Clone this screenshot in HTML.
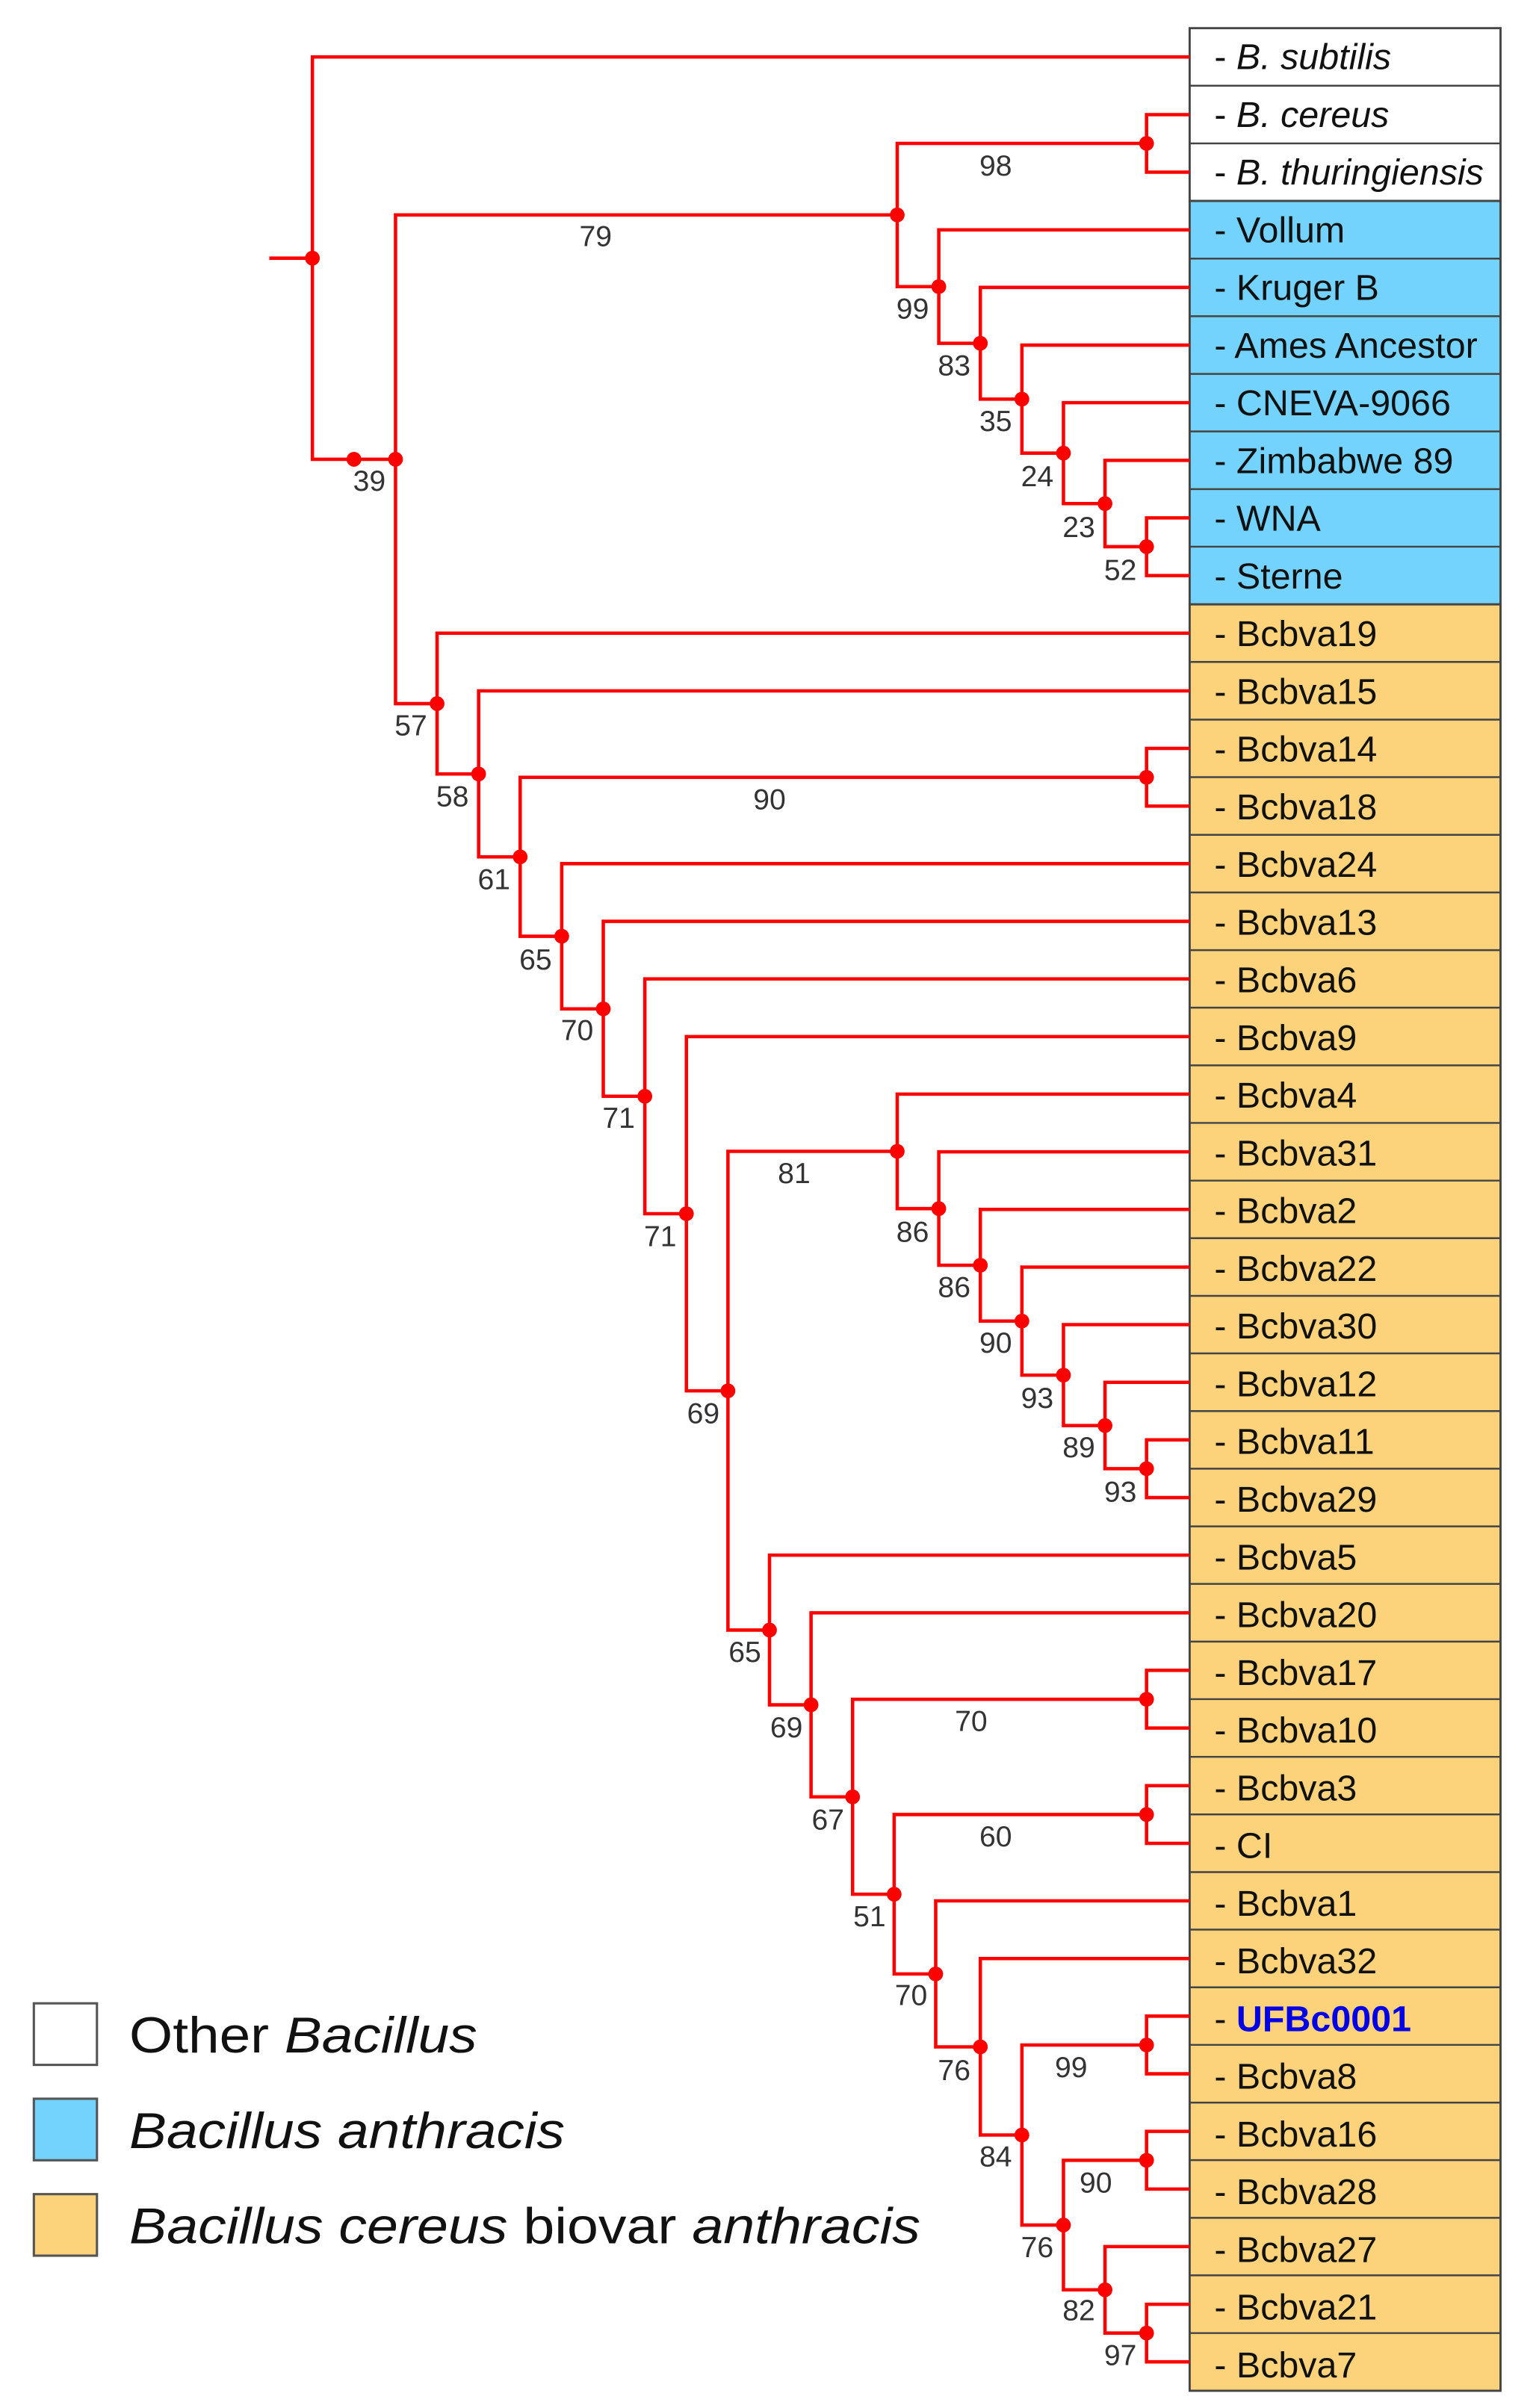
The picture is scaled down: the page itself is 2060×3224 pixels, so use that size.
<!DOCTYPE html>
<html><head><meta charset="utf-8"><style>
html,body{margin:0;padding:0;background:#fff;}
svg{display:block;}
text{font-family:"Liberation Sans",sans-serif;}
.n{font-size:19px;fill:#333;text-anchor:middle;}
.l{font-size:23.5px;fill:#111;}
.e{fill:none;stroke:#f00;stroke-width:2.2;}
.d{fill:#f00;}
</style></head><body>
<svg width="2060" height="3224" viewBox="0 0 1000 1565" preserveAspectRatio="none" xmlns="http://www.w3.org/2000/svg">
<g stroke="#444" stroke-width="1.4">
<rect x="773" y="18.3" width="202" height="112.3" fill="#fff"/>
<rect x="773" y="130.6" width="202" height="262.2" fill="#74d3fc"/>
<rect x="773" y="392.8" width="202" height="1161" fill="#fcd27a"/>
</g>
<g stroke="#444" stroke-width="1.2">
<line x1="773" x2="975" y1="55.7" y2="55.7"/><line x1="773" x2="975" y1="93.2" y2="93.2"/>
<line x1="773" x2="975" y1="168.1" y2="168.1"/><line x1="773" x2="975" y1="205.5" y2="205.5"/><line x1="773" x2="975" y1="243" y2="243"/><line x1="773" x2="975" y1="280.4" y2="280.4"/><line x1="773" x2="975" y1="317.9" y2="317.9"/><line x1="773" x2="975" y1="355.3" y2="355.3"/>
<line x1="773" x2="975" y1="430.2" y2="430.2"/><line x1="773" x2="975" y1="467.7" y2="467.7"/><line x1="773" x2="975" y1="505.1" y2="505.1"/><line x1="773" x2="975" y1="542.6" y2="542.6"/><line x1="773" x2="975" y1="580" y2="580"/><line x1="773" x2="975" y1="617.5" y2="617.5"/><line x1="773" x2="975" y1="654.9" y2="654.9"/><line x1="773" x2="975" y1="692.4" y2="692.4"/><line x1="773" x2="975" y1="729.8" y2="729.8"/><line x1="773" x2="975" y1="767.3" y2="767.3"/><line x1="773" x2="975" y1="804.7" y2="804.7"/><line x1="773" x2="975" y1="842.2" y2="842.2"/><line x1="773" x2="975" y1="879.6" y2="879.6"/><line x1="773" x2="975" y1="917.1" y2="917.1"/><line x1="773" x2="975" y1="954.5" y2="954.5"/><line x1="773" x2="975" y1="992" y2="992"/><line x1="773" x2="975" y1="1029.4" y2="1029.4"/><line x1="773" x2="975" y1="1066.9" y2="1066.9"/><line x1="773" x2="975" y1="1104.3" y2="1104.3"/><line x1="773" x2="975" y1="1141.8" y2="1141.8"/><line x1="773" x2="975" y1="1179.2" y2="1179.2"/><line x1="773" x2="975" y1="1216.7" y2="1216.7"/><line x1="773" x2="975" y1="1254.1" y2="1254.1"/><line x1="773" x2="975" y1="1291.6" y2="1291.6"/><line x1="773" x2="975" y1="1329" y2="1329"/><line x1="773" x2="975" y1="1366.5" y2="1366.5"/><line x1="773" x2="975" y1="1403.9" y2="1403.9"/><line x1="773" x2="975" y1="1441.4" y2="1441.4"/><line x1="773" x2="975" y1="1478.8" y2="1478.8"/><line x1="773" x2="975" y1="1516.3" y2="1516.3"/>
</g>
<g class="e">
<path d="M175 167.8 H203"/>
<path d="M773 37 H203 V298.5 H257"/>
<path d="M583 139.7 H257 V457.3 H284"/>
<path d="M745 93.2 H583 V186.3 H610"/>
<path d="M773 74.5 H745 V111.9 H773"/>
<path d="M773 149.4 H610 V223.1 H637"/>
<path d="M773 186.8 H637 V259.4 H664"/>
<path d="M773 224.3 H664 V294.5 H691"/>
<path d="M773 261.7 H691 V327.3 H718"/>
<path d="M773 299.2 H718 V355.3 H745"/>
<path d="M773 336.6 H745 V374.1 H773"/>
<path d="M773 411.5 H284 V503 H311"/>
<path d="M773 449 H311 V556.9 H338"/>
<path d="M745 505.2 H338 V608.5 H365"/>
<path d="M773 486.4 H745 V523.9 H773"/>
<path d="M773 561.3 H365 V655.7 H392"/>
<path d="M773 598.8 H392 V712.5 H419"/>
<path d="M773 636.2 H419 V788.8 H446"/>
<path d="M773 673.7 H446 V903.9 H473"/>
<path d="M583 748.3 H473 V1059.4 H500"/>
<path d="M773 711.1 H583 V785.5 H610"/>
<path d="M773 748.6 H610 V822.3 H637"/>
<path d="M773 786 H637 V858.6 H664"/>
<path d="M773 823.5 H664 V893.7 H691"/>
<path d="M773 860.9 H691 V926.5 H718"/>
<path d="M773 898.4 H718 V954.5 H745"/>
<path d="M773 935.8 H745 V973.3 H773"/>
<path d="M773 1010.7 H500 V1108 H527"/>
<path d="M773 1048.2 H527 V1167.8 H554"/>
<path d="M745 1104.4 H554 V1231.1 H581"/>
<path d="M773 1085.6 H745 V1123.1 H773"/>
<path d="M745 1179.3 H581 V1282.9 H608"/>
<path d="M773 1160.5 H745 V1198 H773"/>
<path d="M773 1235.4 H608 V1330.3 H637"/>
<path d="M773 1272.9 H637 V1387.6 H664"/>
<path d="M745 1329.1 H664 V1446.1 H691"/>
<path d="M773 1310.3 H745 V1347.8 H773"/>
<path d="M745 1404 H691 V1488.2 H718"/>
<path d="M773 1385.2 H745 V1422.7 H773"/>
<path d="M773 1460.1 H718 V1516.3 H745"/>
<path d="M773 1497.6 H745 V1535 H773"/>
</g>
<g class="d">
<circle cx="203" cy="167.8" r="4.8"/><circle cx="230" cy="298.5" r="4.8"/><circle cx="257" cy="298.5" r="4.8"/>
<circle cx="583" cy="139.7" r="4.8"/><circle cx="745" cy="93.2" r="4.8"/><circle cx="610" cy="186.3" r="4.8"/>
<circle cx="637" cy="223.1" r="4.8"/><circle cx="664" cy="259.4" r="4.8"/><circle cx="691" cy="294.5" r="4.8"/>
<circle cx="718" cy="327.3" r="4.8"/><circle cx="745" cy="355.3" r="4.8"/><circle cx="284" cy="457.3" r="4.8"/>
<circle cx="311" cy="503" r="4.8"/><circle cx="338" cy="556.9" r="4.8"/><circle cx="745" cy="505.2" r="4.8"/>
<circle cx="365" cy="608.5" r="4.8"/><circle cx="392" cy="655.7" r="4.8"/><circle cx="419" cy="712.5" r="4.8"/>
<circle cx="446" cy="788.8" r="4.8"/><circle cx="473" cy="903.9" r="4.8"/><circle cx="583" cy="748.3" r="4.8"/>
<circle cx="610" cy="785.5" r="4.8"/><circle cx="637" cy="822.3" r="4.8"/><circle cx="664" cy="858.6" r="4.8"/>
<circle cx="691" cy="893.7" r="4.8"/><circle cx="718" cy="926.5" r="4.8"/><circle cx="745" cy="954.5" r="4.8"/>
<circle cx="500" cy="1059.4" r="4.8"/><circle cx="527" cy="1108" r="4.8"/><circle cx="554" cy="1167.8" r="4.8"/>
<circle cx="745" cy="1104.4" r="4.8"/><circle cx="581" cy="1231.1" r="4.8"/><circle cx="745" cy="1179.3" r="4.8"/>
<circle cx="608" cy="1282.9" r="4.8"/><circle cx="637" cy="1330.3" r="4.8"/><circle cx="664" cy="1387.6" r="4.8"/>
<circle cx="745" cy="1329.1" r="4.8"/><circle cx="691" cy="1446.1" r="4.8"/><circle cx="745" cy="1404" r="4.8"/>
<circle cx="718" cy="1488.2" r="4.8"/><circle cx="745" cy="1516.3" r="4.8"/>
</g>
<g class="n">
<text x="240" y="319">39</text><text x="387" y="160">79</text><text x="647" y="114">98</text>
<text x="593" y="207">99</text><text x="620" y="244">83</text><text x="647" y="280">35</text>
<text x="674" y="316">24</text><text x="701" y="349">23</text><text x="728" y="377">52</text>
<text x="267" y="478">57</text><text x="294" y="524">58</text><text x="321" y="578">61</text>
<text x="500" y="526">90</text><text x="348" y="630">65</text><text x="375" y="676">70</text>
<text x="402" y="733">71</text><text x="429" y="810">71</text><text x="457" y="925">69</text>
<text x="516" y="769">81</text><text x="593" y="807">86</text><text x="620" y="843">86</text>
<text x="647" y="879">90</text><text x="674" y="915">93</text><text x="701" y="947">89</text>
<text x="728" y="976">93</text><text x="484" y="1080">65</text><text x="511" y="1129">69</text>
<text x="538" y="1189">67</text><text x="631" y="1125">70</text><text x="565" y="1252">51</text>
<text x="647" y="1200">60</text><text x="592" y="1303">70</text><text x="620" y="1352">76</text>
<text x="696" y="1350">99</text><text x="647" y="1408">84</text><text x="674" y="1467">76</text>
<text x="712" y="1425">90</text><text x="701" y="1508">82</text><text x="728" y="1537">97</text>
</g>
<g class="l">
<text x="789" y="45">- <tspan font-style="italic">B. subtilis</tspan></text>
<text x="789" y="82.5">- <tspan font-style="italic">B. cereus</tspan></text>
<text x="789" y="120">- <tspan font-style="italic">B. thuringiensis</tspan></text>
<text x="789" y="157.5">- Vollum</text>
<text x="789" y="195">- Kruger B</text>
<text x="789" y="232.5">- Ames Ancestor</text>
<text x="789" y="270">- CNEVA-9066</text>
<text x="789" y="307.5">- Zimbabwe 89</text>
<text x="789" y="345">- WNA</text>
<text x="789" y="382.5">- Sterne</text>
<text x="789" y="420">- Bcbva19</text>
<text x="789" y="457.5">- Bcbva15</text>
<text x="789" y="495">- Bcbva14</text>
<text x="789" y="532.5">- Bcbva18</text>
<text x="789" y="570">- Bcbva24</text>
<text x="789" y="607.5">- Bcbva13</text>
<text x="789" y="645">- Bcbva6</text>
<text x="789" y="682.5">- Bcbva9</text>
<text x="789" y="720">- Bcbva4</text>
<text x="789" y="757.5">- Bcbva31</text>
<text x="789" y="795">- Bcbva2</text>
<text x="789" y="832.5">- Bcbva22</text>
<text x="789" y="870">- Bcbva30</text>
<text x="789" y="907.5">- Bcbva12</text>
<text x="789" y="945">- Bcbva11</text>
<text x="789" y="982.5">- Bcbva29</text>
<text x="789" y="1020">- Bcbva5</text>
<text x="789" y="1057.5">- Bcbva20</text>
<text x="789" y="1095">- Bcbva17</text>
<text x="789" y="1132.5">- Bcbva10</text>
<text x="789" y="1170">- Bcbva3</text>
<text x="789" y="1207.5">- CI</text>
<text x="789" y="1245">- Bcbva1</text>
<text x="789" y="1282.5">- Bcbva32</text>
<text x="789" y="1320">- <tspan fill="#0000e6" font-weight="bold">UFBc0001</tspan></text>
<text x="789" y="1357.5">- Bcbva8</text>
<text x="789" y="1395">- Bcbva16</text>
<text x="789" y="1432.5">- Bcbva28</text>
<text x="789" y="1470">- Bcbva27</text>
<text x="789" y="1507.5">- Bcbva21</text>
<text x="789" y="1545">- Bcbva7</text>
</g>
<g stroke="#555" stroke-width="1.5">
<rect x="22" y="1302" width="41" height="40" fill="#fff"/>
<rect x="22" y="1364" width="41" height="40" fill="#74d3fc"/>
<rect x="22" y="1426" width="41" height="40" fill="#fcd27a"/>
</g>
<g font-size="33" fill="#111">
<text x="84" y="1334" textLength="226" lengthAdjust="spacingAndGlyphs">Other <tspan font-style="italic">Bacillus</tspan></text>
<text x="84" y="1396" font-style="italic" textLength="283" lengthAdjust="spacingAndGlyphs">Bacillus anthracis</text>
<text x="84" y="1458" textLength="514" lengthAdjust="spacingAndGlyphs"><tspan font-style="italic">Bacillus cereus</tspan> biovar <tspan font-style="italic">anthracis</tspan></text>
</g>
</svg>
</body></html>
